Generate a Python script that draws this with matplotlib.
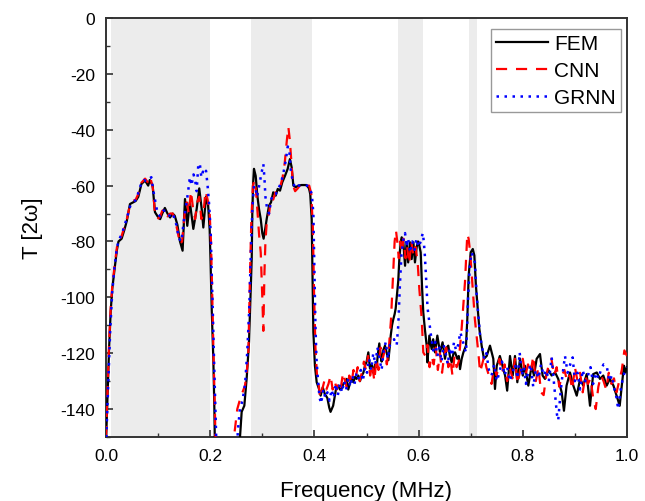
import matplotlib
matplotlib.use("Agg")
import matplotlib.pyplot as plt
from matplotlib.ticker import MultipleLocator

plt.rcParams['font.family'] = ['Liberation Sans', 'DejaVu Sans']
plt.rcParams['axes.unicode_minus'] = False

# ---------------- data ----------------
fem_f = [0.000, 0.003, 0.006, 0.009, 0.012, 0.017, 0.021, 0.024, 0.030, 0.035, 0.040, 0.046, 0.052, 0.057, 0.062,
         0.068, 0.075, 0.081, 0.084, 0.0895, 0.094, 0.099, 0.104, 0.108, 0.113, 0.118, 0.123, 0.128, 0.132, 0.137,
         0.142, 0.147, 0.1516, 0.156, 0.161, 0.1676, 0.174, 0.179, 0.1837, 0.1868, 0.192, 0.196, 0.199, 0.2005,
         0.203, 0.206, 0.208, 0.2095, 0.255, 0.2565, 0.2604, 0.2655, 0.270, 0.2745, 0.2777, 0.2797, 0.2808,
         0.2825, 0.284, 0.2873, 0.2905, 0.2937, 0.297, 0.300, 0.3025, 0.3052, 0.3084, 0.3128, 0.3167, 0.321,
         0.3257, 0.3296, 0.334, 0.3384, 0.3436, 0.3487, 0.353, 0.3564, 0.3596, 0.364, 0.369, 0.3755, 0.385,
         0.3896, 0.392, 0.3948, 0.3967, 0.398, 0.401, 0.4044, 0.4088, 0.412, 0.416, 0.420, 0.4248, 0.4285,
         0.431, 0.436, 0.4415, 0.446, 0.449, 0.452, 0.4555, 0.4587, 0.462, 0.465, 0.468, 0.4715, 0.4747,
         0.478, 0.481, 0.4843, 0.4875, 0.491, 0.494, 0.497, 0.5003, 0.5035, 0.5067, 0.510, 0.513, 0.5165,
         0.5195, 0.522, 0.5246, 0.527, 0.529, 0.532, 0.5355, 0.539, 0.542, 0.5445, 0.5465, 0.549, 0.5515,
         0.554, 0.556, 0.558, 0.561, 0.563, 0.5656, 0.5675, 0.5707, 0.574, 0.577, 0.580, 0.5835, 0.5867,
         0.590, 0.593, 0.5963, 0.599, 0.6014, 0.604, 0.6065, 0.609, 0.612, 0.6155, 0.617, 0.6206, 0.625,
         0.628, 0.6315, 0.636, 0.641, 0.646, 0.6507, 0.654, 0.657, 0.660, 0.6635, 0.667, 0.670, 0.6743,
         0.677, 0.6795, 0.6827, 0.686, 0.691, 0.6935, 0.696, 0.700, 0.704, 0.707, 0.710, 0.7135, 0.7166,
         0.721, 0.7255, 0.7307, 0.737, 0.7434, 0.7466, 0.750, 0.756, 0.7626, 0.766, 0.770, 0.7754, 0.7806,
         0.785, 0.7895, 0.7946, 0.800, 0.804, 0.8106, 0.817, 0.8215, 0.8266, 0.833, 0.838, 0.8426, 0.849,
         0.8554, 0.862, 0.868, 0.8746, 0.879, 0.884, 0.8906, 0.897, 0.9035, 0.910, 0.916, 0.9226, 0.929,
         0.935, 0.942, 0.948, 0.9545, 0.961, 0.967, 0.974, 0.980, 0.986, 0.990, 0.9942, 0.997, 1.000]
fem_t = [-152, -135, -118, -105, -97, -89, -83, -80, -79, -76, -72.6, -66.6, -66, -65.5, -64,
         -59.4, -58.2, -60, -58, -60, -69.5, -71, -72, -70, -68, -70, -71.4, -70, -70.8, -74,
         -80, -83.3, -64.8, -74.4, -66, -75.5, -68.4, -61, -68.4, -75, -64, -67, -76, -86,
         -105, -122, -140, -160, -160, -152, -141, -138.8, -129, -116, -98, -86, -70,
         -58.8, -54, -56.5, -63.6, -68.4, -72, -77, -79, -76, -72, -67.2, -66, -62.4,
         -63.6, -61.2, -61.8, -58.8, -56.5, -54, -50.5, -53.5, -60, -60.6, -60, -59.8, -59.8,
         -61, -63, -72, -94.6, -112.5, -124.5, -130.4, -132.8, -135.2, -132.2, -134.6, -136, -139.5,
         -141, -138.8, -132.8, -131.6, -133, -132.8, -131, -130.4, -129.2, -133, -131, -129.2, -130.4,
         -128.5, -129.2, -128, -130, -128, -127, -124.5, -123, -119.7, -125.5, -124, -127, -124,
         -125, -120, -116.5, -121, -123, -119, -117.3, -120, -122.5, -118, -113.7, -110, -107.8,
         -106, -104, -100, -94, -86.3, -80.3, -78.5, -80.3, -88.7, -80.3, -87.5, -80.3, -86.3,
         -80.3, -87.5, -82, -80, -81.5, -83.9, -95.8, -105.4, -111.3, -117.3, -123.3, -113.7, -118.5,
         -115, -119.7, -113.7, -119.7, -116.1, -122, -118, -117.3, -121, -123.3, -120, -119.7, -122,
         -121, -125.7, -122, -119.7, -117.3, -107.8, -92.3, -83.9, -82.7, -85, -95.8, -104, -111.3,
         -117.3, -122, -121, -117.3, -122, -132.8, -124.5, -121, -125.7, -128, -133.4, -121, -128,
         -121, -130.4, -122, -128, -124.5, -131.6, -124.5, -128, -122, -120.3, -128, -129.2, -126,
         -128, -126.9, -129.2, -134, -140.6, -131.6, -126.9, -131.6, -135.2, -129.2, -131.6, -127.5, -138.8,
         -127.5, -126.9, -129.2, -128, -131.6, -129.2, -131.6, -135.2, -138.8, -131.6, -124.5, -126.9, -125]

cnn_f = [0.000, 0.003, 0.006, 0.009, 0.012, 0.017, 0.021, 0.024, 0.030, 0.035, 0.040, 0.046, 0.052, 0.057, 0.062,
         0.068, 0.075, 0.081, 0.085, 0.090, 0.094, 0.099, 0.104, 0.108, 0.113, 0.118, 0.123, 0.128, 0.132, 0.137,
         0.142, 0.146, 0.151, 0.155, 0.159, 0.163, 0.167, 0.171, 0.175, 0.179, 0.183, 0.187, 0.191, 0.195,
         0.199, 0.2015, 0.204, 0.2065, 0.209, 0.211, 0.240, 0.244, 0.2476, 0.252, 0.258, 0.2668, 0.273, 0.2764,
         0.279, 0.282, 0.285, 0.288, 0.291, 0.294, 0.297, 0.300, 0.302, 0.304, 0.306, 0.309, 0.313, 0.317,
         0.321, 0.326, 0.330, 0.335, 0.339, 0.343, 0.347, 0.350, 0.353, 0.356, 0.359, 0.363, 0.368, 0.374,
         0.383, 0.390, 0.394, 0.397, 0.3995, 0.402, 0.405, 0.408, 0.411, 0.415, 0.419, 0.423, 0.427, 0.431,
         0.435, 0.439, 0.443, 0.447, 0.451, 0.455, 0.459, 0.463, 0.467, 0.471, 0.475, 0.479, 0.483, 0.487,
         0.491, 0.495, 0.499, 0.503, 0.507, 0.511, 0.515, 0.519, 0.523, 0.527, 0.531, 0.535, 0.539, 0.543,
         0.547, 0.5515, 0.554, 0.5566, 0.559, 0.562, 0.565, 0.568, 0.571, 0.575, 0.578, 0.582, 0.586, 0.590,
         0.594, 0.598, 0.6014, 0.606, 0.609, 0.613, 0.617, 0.621, 0.625, 0.629, 0.633, 0.637, 0.641, 0.645,
         0.649, 0.653, 0.657, 0.661, 0.665, 0.669, 0.673, 0.677, 0.6827, 0.689, 0.6935, 0.696, 0.699, 0.702,
         0.705, 0.708, 0.7146, 0.718, 0.722, 0.726, 0.730, 0.735, 0.740, 0.745, 0.750, 0.755, 0.760, 0.765,
         0.770, 0.775, 0.780, 0.785, 0.790, 0.795, 0.800, 0.805, 0.810, 0.815, 0.820, 0.825, 0.830, 0.835,
         0.840, 0.845, 0.850, 0.855, 0.860, 0.865, 0.870, 0.875, 0.880, 0.885, 0.890, 0.895, 0.900, 0.905,
         0.910, 0.915, 0.920, 0.925, 0.930, 0.935, 0.940, 0.945, 0.950, 0.955, 0.960, 0.965, 0.970, 0.975,
         0.980, 0.985, 0.990, 0.995, 1.000]
cnn_t = [-150, -133, -116, -104, -96, -88, -82, -80, -78, -75, -72, -67, -65.5, -65, -63,
         -59, -57.5, -59, -57, -61, -70, -72, -71, -69, -68.5, -71, -70, -70, -72, -76,
         -81, -80, -70, -66, -70, -62, -68, -72, -66, -64, -72, -70, -62, -65,
         -70, -80, -100, -122, -140, -160, -160, -152, -147, -140, -136, -131.6, -122, -92,
         -72, -60, -58, -62, -70, -78, -84, -100, -112, -92, -80, -72, -70, -64,
         -65, -62, -62, -60, -57, -52, -44, -39, -44, -52, -60, -62, -61, -59.5,
         -60, -60, -63, -75, -100, -118, -128, -131, -136, -133, -130, -133, -131, -128,
         -133, -130, -133, -130, -132, -127, -130, -133, -128, -131, -126, -129, -125, -130,
         -127, -123, -126, -121, -128, -124, -130, -122, -126, -118, -122, -119, -124, -118,
         -108, -90, -80, -76, -80, -86, -80, -84, -79, -86, -82, -88, -80, -85,
         -82, -87, -97, -107.8, -119.7, -121, -117, -125, -121, -124, -118, -126, -120, -127,
         -121, -118, -125, -122, -128, -121, -125, -123, -111, -94.6, -77.3, -79, -84, -92,
         -100, -107.8, -119.7, -126.8, -124, -121, -125, -128, -131, -125, -128, -122, -127, -124,
         -130, -125, -129, -122, -131, -126, -122, -128, -124, -127, -121, -130, -125, -134,
         -135, -128, -124, -122, -128, -125, -132, -128, -126, -130, -128, -133, -125, -130,
         -127, -134, -128, -131, -129, -136, -140, -132, -128, -130, -133, -127, -131, -129,
         -134, -130, -126, -119, -121]

grnn_f = [0.000, 0.004, 0.008, 0.012, 0.016, 0.021, 0.026, 0.031, 0.036, 0.041, 0.047, 0.052, 0.058, 0.063, 0.068,
          0.073, 0.078, 0.083, 0.087, 0.091, 0.095, 0.099, 0.104, 0.110, 0.115, 0.120, 0.125, 0.130, 0.135, 0.140,
          0.145, 0.149, 0.153, 0.157, 0.161, 0.164, 0.168, 0.171, 0.174, 0.177, 0.180, 0.183, 0.186, 0.189,
          0.192, 0.195, 0.198, 0.201, 0.203, 0.205, 0.207, 0.209, 0.211, 0.213, 0.250, 0.253, 0.257, 0.262,
          0.267, 0.271, 0.275, 0.278, 0.281, 0.284, 0.287, 0.290, 0.293, 0.296, 0.299, 0.302, 0.304, 0.306,
          0.309, 0.313, 0.317, 0.321, 0.326, 0.331, 0.336, 0.341, 0.345, 0.349, 0.352, 0.355, 0.359, 0.364,
          0.370, 0.378, 0.386, 0.391, 0.395, 0.398, 0.400, 0.402, 0.404, 0.407, 0.410, 0.413, 0.417, 0.421,
          0.425, 0.429, 0.433, 0.437, 0.441, 0.445, 0.449, 0.453, 0.457, 0.461, 0.465, 0.469, 0.473, 0.477,
          0.481, 0.485, 0.489, 0.493, 0.497, 0.501, 0.505, 0.509, 0.513, 0.517, 0.521, 0.525, 0.529, 0.533,
          0.537, 0.541, 0.545, 0.549, 0.553, 0.556, 0.558, 0.561, 0.564, 0.567, 0.570, 0.574, 0.577, 0.580,
          0.584, 0.588, 0.592, 0.596, 0.600, 0.604, 0.608, 0.610, 0.612, 0.6155, 0.617, 0.620, 0.624, 0.628,
          0.632, 0.636, 0.640, 0.644, 0.648, 0.652, 0.656, 0.660, 0.664, 0.668, 0.672, 0.676, 0.680, 0.684,
          0.688, 0.691, 0.693, 0.695, 0.6987, 0.702, 0.705, 0.708, 0.7115, 0.7147, 0.718, 0.722, 0.726, 0.730,
          0.735, 0.740, 0.745, 0.750, 0.755, 0.760, 0.765, 0.770, 0.775, 0.780, 0.785, 0.790, 0.794, 0.798,
          0.802, 0.806, 0.810, 0.815, 0.820, 0.825, 0.830, 0.835, 0.840, 0.845, 0.850, 0.8554, 0.860, 0.8656,
          0.868, 0.872, 0.876, 0.881, 0.886, 0.891, 0.8957, 0.900, 0.905, 0.910, 0.915, 0.920, 0.925, 0.930,
          0.935, 0.940, 0.945, 0.950, 0.955, 0.961, 0.966, 0.971, 0.976, 0.980, 0.983, 0.987, 0.991, 0.995,
          1.000]
grnn_t = [-153, -132, -112, -98, -90, -82, -79, -77, -74, -71, -67, -66, -65, -62, -59,
          -58, -58.5, -57.5, -57, -62, -66, -70, -71, -69, -69, -70, -72, -71, -74, -79,
          -80, -73, -68, -63, -57, -60, -56, -58, -62, -53, -52, -57, -55, -56,
          -54.7, -60, -67, -77, -92, -105, -120, -133, -146, -160, -160, -148, -140, -137,
          -131, -120, -104, -84, -68, -60, -61, -64, -61, -58, -55, -52.3, -57, -64,
          -68, -70, -65, -63, -63, -61, -59, -55, -51, -46, -48, -55, -59, -61,
          -60, -60, -60, -61, -63, -70, -90, -110, -122, -130, -136, -138, -133, -136,
          -134, -137, -133, -136, -131, -135, -131, -134, -130, -133, -129, -132, -128, -131,
          -127, -129, -126, -130, -125, -127, -122, -126, -120, -124, -118, -122, -126, -119,
          -116, -122, -117, -116, -115, -117, -117, -110, -96, -85, -80, -77, -82, -79,
          -84, -80, -83, -79, -82, -80, -77, -80, -85, -97, -103.5, -108, -114, -119,
          -116, -121, -118, -123, -117, -120, -124, -118, -121, -116, -119, -117, -112.5, -115,
          -118, -119.7, -112, -100, -87.5, -84, -86, -87.5, -99.4, -106.6, -113.7, -118, -122, -120,
          -126, -128, -124, -130, -127, -123, -128, -125, -130, -127, -124, -129, -119.7, -128,
          -125, -131, -127, -124, -132, -126, -129, -124, -128, -126, -130, -121.5, -131, -142,
          -144, -135, -128, -121, -127, -124, -121.5, -130, -127, -133, -126, -130, -128, -125,
          -131, -127, -129, -126, -124, -124.5, -130, -128, -133, -136, -140, -134, -130, -127,
          -125]

shaded_bands = [(0.0095, 0.200), (0.279, 0.395), (0.560, 0.608), (0.697, 0.712)]

series_labels = ['FEM', 'CNN', 'GRNN']

# ---------------- plot ----------------
fig = plt.figure(figsize=(6.45, 5.02), dpi=100)
ax = fig.add_axes([106 / 645, 1 - 438 / 502, (627 - 106) / 645, (438 - 19) / 502])

for x0, x1 in shaded_bands:
    ax.axvspan(x0, x1, color='#ececec', lw=0, zorder=0)

ax.plot(fem_f, fem_t, color='black', lw=1.6, label=series_labels[0], zorder=3)
ax.plot(cnn_f, cnn_t, color='#ff0000', lw=1.6, linestyle=(0, (5, 4)), label=series_labels[1], zorder=4)
ax.plot(grnn_f, grnn_t, color='#0000ff', lw=1.8, linestyle=(0, (1, 2.2)), label=series_labels[2], zorder=5)

ax.set_xlim(0.0, 1.0)
ax.set_ylim(-150, 0)
ax.xaxis.set_minor_locator(MultipleLocator(0.1))
ax.yaxis.set_minor_locator(MultipleLocator(10))
ax.set_xticks([0.0, 0.2, 0.4, 0.6, 0.8, 1.0])
ax.set_xticklabels(['0.0', '0.2', '0.4', '0.6', '0.8', '1.0'])
ax.set_yticks([0, -20, -40, -60, -80, -100, -120, -140])
ax.set_yticklabels(['0', '-20', '-40', '-60', '-80', '-100', '-120', '-140'])

ax.tick_params(which='both', direction='in', top=False, right=False, labelsize=12.5,
               colors='#333333', labelcolor='black')
ax.tick_params(axis='y', which='major', pad=8)
ax.tick_params(axis='x', which='major', pad=8)
ax.tick_params(which='major', length=5, width=1.2)
ax.tick_params(which='minor', length=3, width=1.0)
for sp in ax.spines.values():
    sp.set_linewidth(1.4)
    sp.set_color('#333333')

ax.set_xlabel('Frequency (MHz)', fontsize=16, labelpad=12)
ax.set_ylabel('T [2ω]', fontsize=16, labelpad=12)

leg = ax.legend(loc='upper right', bbox_to_anchor=(0.9885, 0.9737), fontsize=15,
                handlelength=2.5, handletextpad=0.3, labelspacing=0.38, borderpad=0.25,
                borderaxespad=0.0, fancybox=False, framealpha=1, edgecolor='#999999')
leg.get_frame().set_linewidth(1.0)

fig.savefig('out.png', dpi=100)
